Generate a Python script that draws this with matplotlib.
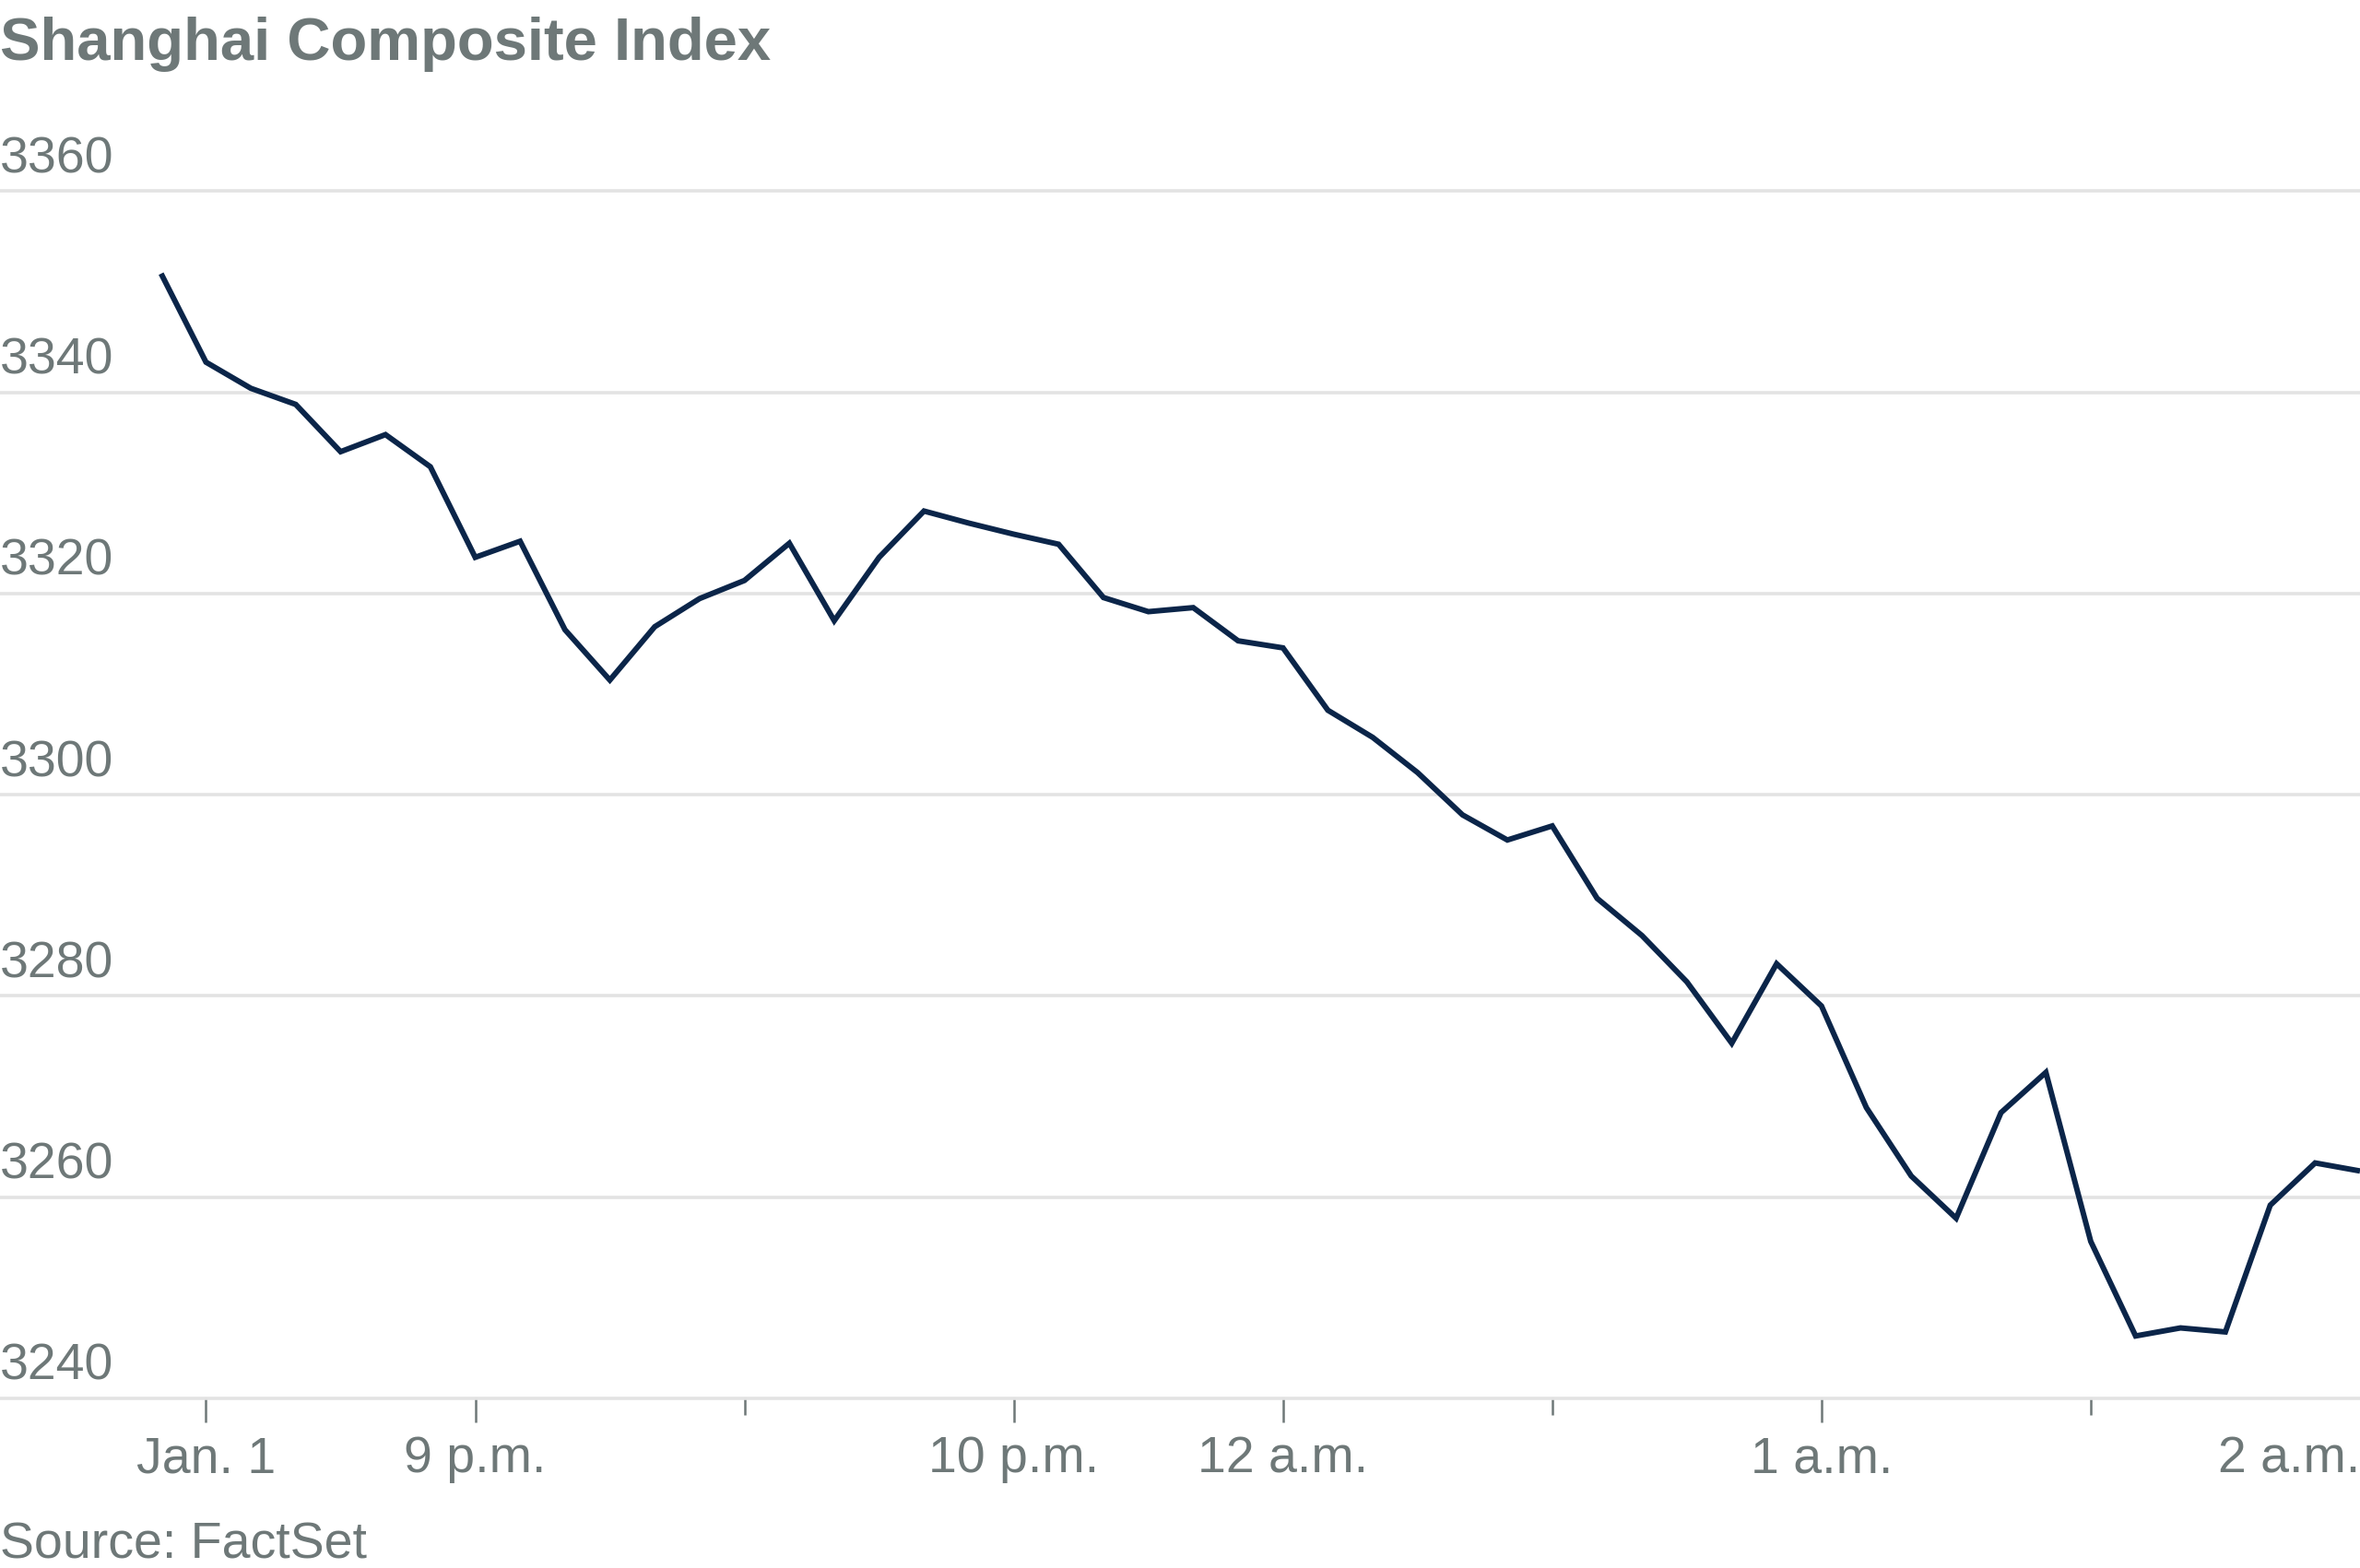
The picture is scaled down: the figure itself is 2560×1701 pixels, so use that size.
import matplotlib
matplotlib.use("Agg")
import matplotlib.pyplot as plt

plt.rcParams['font.family'] = ['Liberation Sans', 'DejaVu Sans']

# Shanghai Composite Index, intraday readings
index_values = [
    3351.8, 3343.0, 3340.4, 3338.8, 3334.1, 3335.8, 3332.6, 3323.6, 3325.2, 3316.4,
    3311.4, 3316.7, 3319.5, 3321.3, 3325.0, 3317.3, 3323.6, 3328.2, 3327.0, 3325.9,
    3324.9, 3319.6, 3318.2, 3318.6, 3315.3, 3314.6, 3308.4, 3305.7, 3302.2, 3298.0,
    3295.5, 3296.9, 3289.7, 3286.0, 3281.4, 3275.3, 3283.2, 3279.0, 3268.9, 3262.1,
    3257.9, 3268.4, 3272.4, 3255.6, 3246.2, 3247.0, 3246.6, 3259.2, 3263.4, 3262.6,
]
y_ticks = [3240, 3260, 3280, 3300, 3320, 3340, 3360]
major_ticks = [1, 7, 19, 25, 37]
major_labels = ['Jan. 1', '9 p.m.', '10 p.m.', '12 a.m.', '1 a.m.']
minor_ticks = [13, 31, 43]
last_label = '2 a.m.'

text_gray = '#6e7878'
line_color = '#0b2549'
grid_gray = '#e3e3e3'

fig = plt.figure(figsize=(25.6, 17.01), dpi=100)
ax = fig.add_axes([0.0, 0.1082, 1.0, 0.7699])

x = list(range(len(index_values)))
ax.plot(x, index_values, color=line_color, lw=4.3, solid_joinstyle='miter',
        solid_capstyle='butt', zorder=3)

ax.set_xlim(-3.59, len(index_values) - 1)
ax.set_ylim(3240, 3360)

ax.set_yticks(y_ticks)
ax.yaxis.grid(True, color=grid_gray, lw=2.6)
for gl in ax.get_ygridlines():
    gl.set_clip_on(False)
ax.tick_params(axis='y', left=False, labelleft=False)
for v in y_ticks:
    ax.annotate(str(v), xy=(0, v), xycoords=('axes fraction', 'data'),
                xytext=(0, 8), textcoords='offset pixels',
                ha='left', va='bottom', fontsize=40, color=text_gray)

ax.set_xticks(major_ticks)
ax.set_xticklabels(major_labels)
ax.set_xticks(minor_ticks, minor=True)
ax.tick_params(axis='x', which='major', direction='out', length=19, width=1.8,
               color=text_gray, labelsize=40, labelcolor=text_gray, pad=10)
ax.tick_params(axis='x', which='minor', direction='out', length=13, width=1.8,
               color=text_gray)

# last label sits at the right edge, right-aligned like the original
ax.annotate(last_label, xy=(1, 0), xycoords='axes fraction',
            xytext=(0, -19 / 72 * 100 - 10 / 72 * 100), textcoords='offset pixels',
            ha='right', va='top', fontsize=40, color=text_gray)

for s in ax.spines.values():
    s.set_visible(False)

fig.text(0.0, 0.962, 'Shanghai Composite Index', fontsize=47, fontweight='bold',
         color=text_gray, ha='left', va='baseline')
fig.text(0.0, 0.006, 'Source: FactSet', fontsize=40, color=text_gray,
         ha='left', va='baseline')

fig.savefig('out.png', dpi=100, facecolor='white')
